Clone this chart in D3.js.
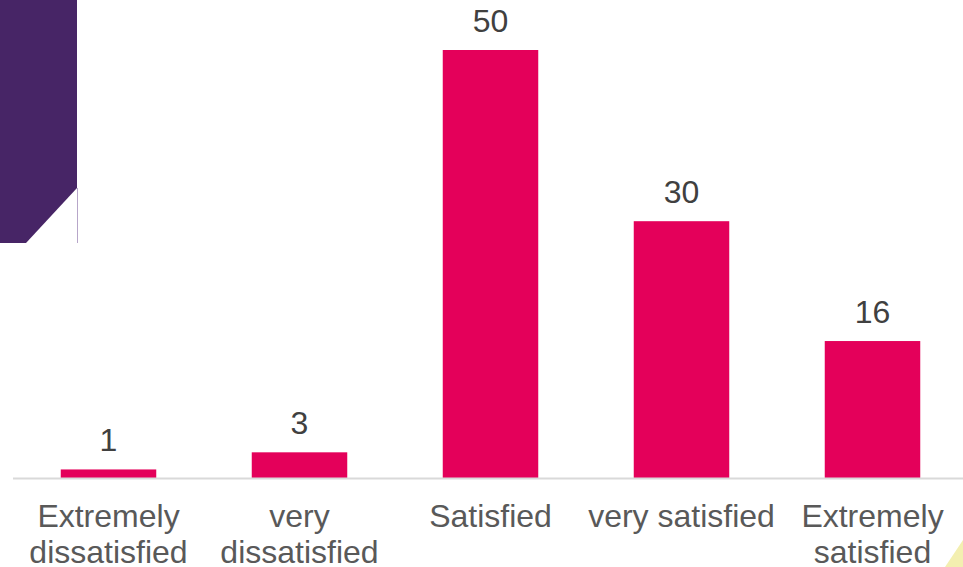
<!DOCTYPE html>
<html>
<head>
<meta charset="utf-8">
<script src="https://cdn.jsdelivr.net/npm/d3@7"></script>
<style>
  html, body { margin: 0; padding: 0; background: #ffffff; }
  svg { display: block; font-family: "Liberation Sans", Arial, sans-serif; }
</style>
</head>
<body>
<svg id="chart" width="963" height="567"></svg>
<script>
const categories = ["Extremely dissatisfied", "very dissatisfied", "Satisfied", "very satisfied", "Extremely satisfied"];
const values = [1, 3, 50, 30, 16];

const W = 963, H = 567;
const svg = d3.select("#chart");

// decorative purple shape (top-left)
svg.append("path")
  .attr("d", "M0,0 L77,0 L77,188 L26,243 L0,243 Z")
  .attr("fill", "#472566");
svg.append("line")
  .attr("x1", 77.5).attr("x2", 77.5).attr("y1", 188).attr("y2", 243)
  .attr("stroke", "#b7a6c9").attr("stroke-width", 1);

// decorative yellow triangle (bottom-right)
svg.append("path")
  .attr("d", `M945,${H} L${W},540 L${W},${H} Z`)
  .attr("fill", "#f3efb0");

const x = d3.scaleBand()
  .domain(categories)
  .range([13, 968])
  .paddingInner(0.5)
  .paddingOuter(0.25);

const y = d3.scaleLinear()
  .domain([0, 50])
  .range([478, 50]);

// bars
svg.append("g").selectAll("rect")
  .data(values)
  .join("rect")
  .attr("x", (d, i) => x(categories[i]))
  .attr("width", x.bandwidth())
  .attr("y", d => y(d))
  .attr("height", d => y(0) - y(d))
  .attr("fill", "#e4005a");

// axis line
svg.append("line")
  .attr("x1", 13).attr("x2", W)
  .attr("y1", y(0) + 0.5).attr("y2", y(0) + 0.5)
  .attr("stroke", "#d9d9d9").attr("stroke-width", 2);

// value labels
svg.append("g").selectAll("text")
  .data(values)
  .join("text")
  .attr("x", (d, i) => x(categories[i]) + x.bandwidth() / 2)
  .attr("y", d => y(d) - 18)
  .attr("text-anchor", "middle")
  .attr("font-size", 32)
  .attr("fill", "#404040")
  .text(d => d);

// category labels with wrapping
const maxW = x.step() - 4;
const labels = svg.append("g");
categories.forEach(c => {
  const cx = x(c) + x.bandwidth() / 2;
  const t = labels.append("text")
    .attr("x", cx)
    .attr("y", 527)
    .attr("text-anchor", "middle")
    .attr("font-size", 32)
    .attr("fill", "#595959");
  const words = c.split(" ");
  let line = [];
  let ts = t.append("tspan").attr("x", cx).attr("dy", 0);
  words.forEach(w => {
    line.push(w);
    ts.text(line.join(" "));
    if (ts.node().getComputedTextLength() > maxW && line.length > 1) {
      line.pop();
      ts.text(line.join(" "));
      line = [w];
      ts = t.append("tspan").attr("x", cx).attr("dy", 36).text(w);
    }
  });
});
</script>
</body>
</html>
